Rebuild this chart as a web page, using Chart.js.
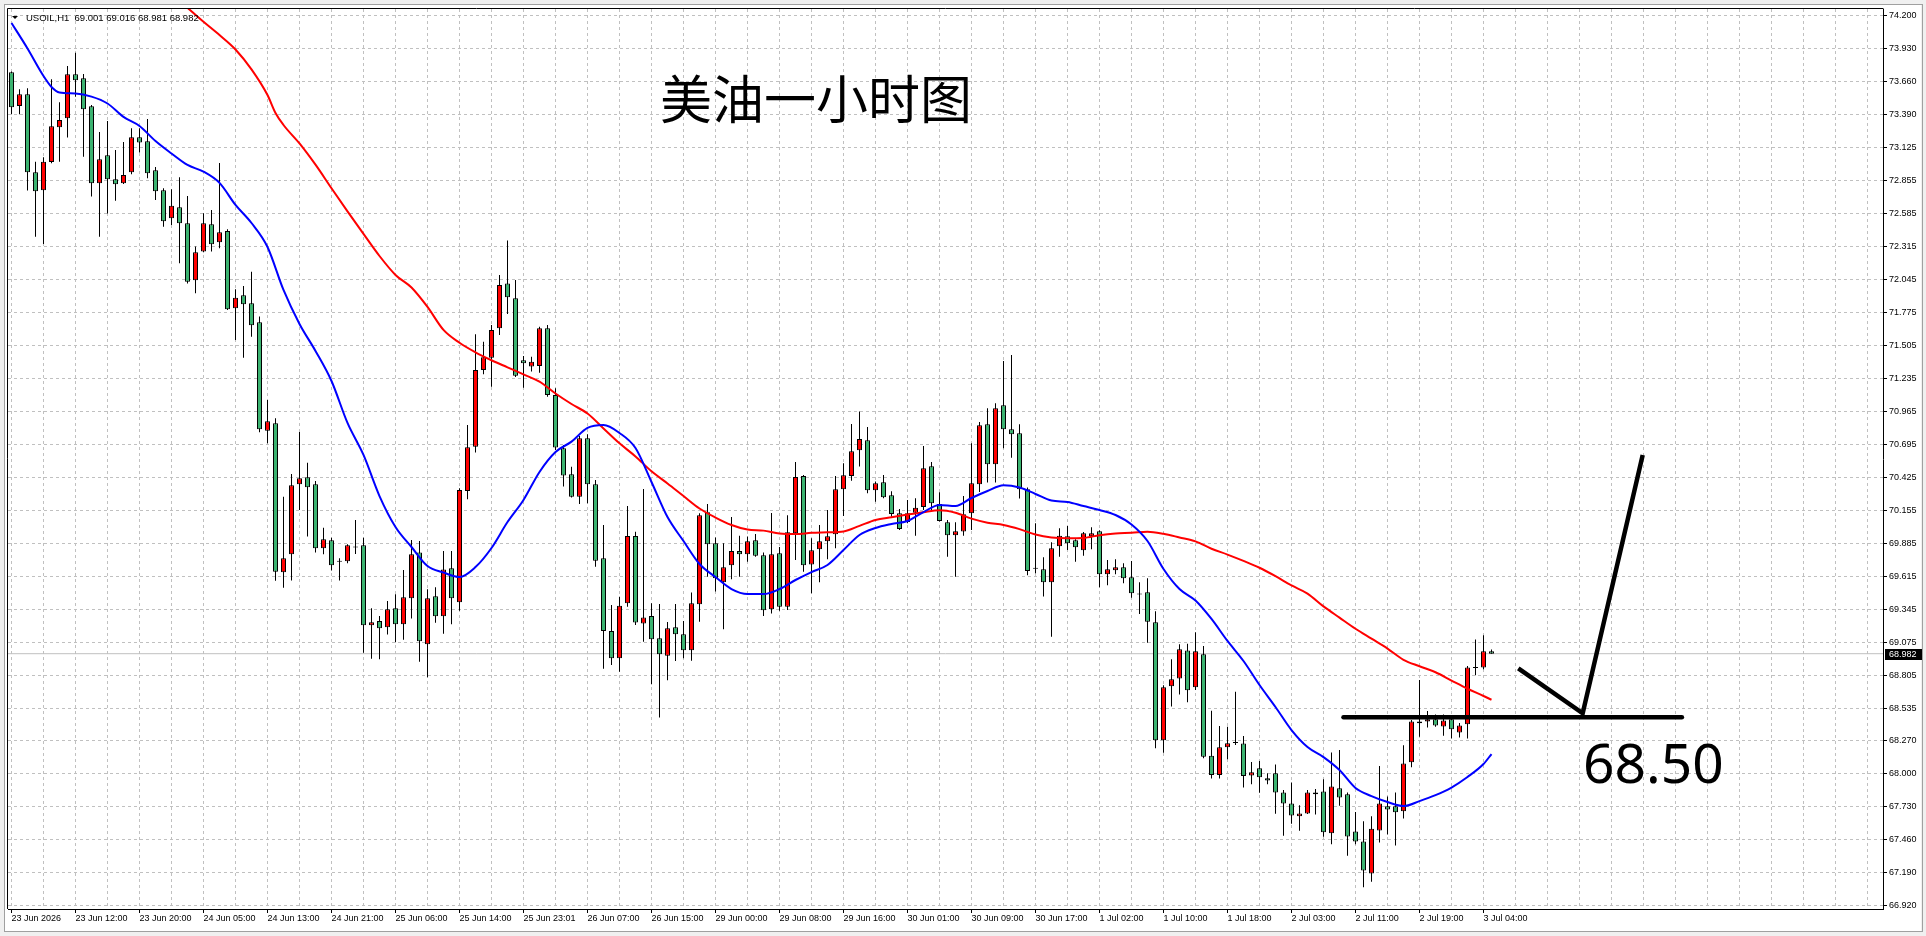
<!DOCTYPE html>
<html>
<head>
<meta charset="utf-8">
<script src="https://cdn.jsdelivr.net/npm/chart.js@4.4.1/dist/chart.umd.min.js"></script>
<style>
html,body{margin:0;padding:0;background:#ffffff;overflow:hidden;}
canvas{display:block;}
</style>
</head>
<body>
<canvas id="c" width="1926" height="936"></canvas>
<script>
// ---------- DATA ----------
const candleOpen = [
73.739,73.464,73.559,72.921,72.774,73.005,73.289,73.363,73.723,73.690,
73.461,72.831,73.060,72.864,72.831,72.921,73.207,73.174,72.937,72.774,
72.544,72.634,72.503,72.037,72.272,72.495,72.348,72.441,71.808,71.914,
71.849,71.693,70.807,70.867,69.648,69.795,70.368,70.425,70.368,69.844,
69.910,69.734,69.738,69.850,69.869,69.214,69.250,69.198,69.353,69.222,
69.435,69.809,69.059,69.451,69.288,69.681,69.402,70.313,70.676,71.303,
71.404,71.644,72.012,71.890,71.382,71.331,71.336,71.644,71.099,70.662,
70.450,70.267,70.744,70.368,69.762,69.167,68.944,69.394,69.945,69.230,
69.291,69.108,68.966,69.198,69.141,69.010,69.386,70.139,69.885,69.566,
69.705,69.823,69.795,69.910,69.787,69.345,69.803,69.367,69.967,70.436,
69.711,69.836,69.902,69.959,70.327,70.436,70.646,70.728,70.319,70.384,
70.278,70.131,70.060,70.136,70.183,70.515,70.207,70.057,69.951,69.981,
70.131,70.368,70.859,70.532,71.014,70.818,70.785,70.327,69.677,69.672,
69.566,69.861,69.942,69.910,69.828,69.942,69.983,69.631,69.664,69.689,
69.607,69.467,69.484,69.239,68.273,68.715,68.780,69.009,68.707,68.977,
68.147,67.990,68.216,68.252,68.248,67.986,68.044,67.962,68.003,67.847,
67.757,67.651,67.675,67.847,67.855,67.512,67.880,67.831,67.528,67.446,
67.184,67.536,67.733,67.733,67.692,68.093,68.412,68.428,68.445,68.387,
68.445,68.338,68.404,68.865,68.870,69.001
];
const candleHigh = [
73.745,73.600,73.608,73.008,73.044,73.682,73.494,73.791,73.900,73.725,
73.472,73.251,73.341,73.104,73.169,73.281,73.281,73.357,72.964,72.790,
72.782,72.880,72.727,72.313,72.585,72.613,72.997,72.454,71.963,71.991,
72.108,71.740,71.058,70.908,70.267,70.452,70.796,70.545,70.395,70.013,
69.931,69.762,69.877,70.076,69.931,69.353,69.290,69.413,69.468,69.667,
69.912,69.904,69.509,69.525,69.822,69.822,70.335,70.853,71.595,71.535,
71.672,72.081,72.362,72.040,71.418,71.412,71.658,71.672,71.153,70.690,
70.512,70.763,70.777,70.403,70.035,69.380,69.448,70.190,69.980,70.330,
69.394,69.389,69.242,69.389,69.250,69.482,70.131,70.207,69.932,69.885,
70.101,69.948,69.940,69.962,69.809,70.133,69.855,70.114,70.551,70.444,
69.926,70.035,70.158,70.436,70.540,70.862,70.963,70.837,70.390,70.444,
70.311,70.166,70.240,70.254,70.682,70.551,70.303,70.076,70.057,70.272,
70.703,70.878,70.990,71.031,71.377,71.426,70.859,70.341,70.049,69.771,
69.893,70.008,70.027,69.918,69.978,70.016,69.991,69.749,69.754,69.721,
69.740,69.566,69.599,69.329,68.723,68.936,69.059,69.064,69.157,69.045,
68.515,68.390,68.385,68.671,68.308,68.095,68.104,68.003,68.076,67.866,
67.929,67.741,67.866,67.874,67.954,68.174,68.194,67.847,67.686,67.610,
67.651,68.063,67.814,67.847,68.232,68.439,68.766,68.513,68.485,68.485,
68.472,68.414,68.881,69.099,69.132,69.016
];
const candleLow = [
73.395,73.395,72.771,72.394,72.334,72.994,73.008,73.205,73.540,73.049,
72.722,72.394,72.583,72.689,72.825,72.904,73.082,72.872,72.694,72.476,
72.490,72.176,72.012,71.931,72.266,72.272,72.299,71.794,71.549,71.404,
71.576,70.793,70.703,69.579,69.522,69.580,70.158,69.940,69.809,69.795,
69.662,69.580,69.721,69.798,68.990,68.941,68.936,69.138,69.075,69.097,
69.269,68.917,68.789,69.236,69.146,69.222,69.334,70.245,70.629,71.268,
71.167,71.590,71.762,71.246,71.159,71.290,71.281,71.085,70.649,70.349,
70.259,70.207,70.212,69.694,68.859,68.889,68.835,69.366,69.217,69.080,
68.731,68.459,68.764,68.922,68.944,68.925,69.244,69.612,69.490,69.182,
69.591,69.612,69.735,69.776,69.291,69.310,69.334,69.340,69.749,69.653,
69.476,69.566,69.754,69.844,70.109,70.398,70.513,70.294,70.226,70.254,
70.103,69.994,70.049,69.948,70.158,70.158,70.063,69.776,69.612,69.948,
69.994,70.305,70.382,70.382,70.662,70.586,70.251,69.623,69.640,69.449,
69.121,69.776,69.831,69.735,69.784,69.836,69.525,69.541,69.631,69.558,
69.440,69.307,69.072,68.208,68.172,68.549,68.649,68.584,68.685,68.126,
67.960,67.960,68.118,68.235,67.888,67.913,67.844,67.913,67.673,67.493,
67.591,67.533,67.670,67.667,67.484,67.422,67.738,67.329,67.422,67.070,
67.116,67.438,67.503,67.413,67.634,68.052,68.303,68.379,68.385,68.311,
68.289,68.297,68.289,68.805,68.854,68.981
];
const candleClose = [
73.453,73.559,72.921,72.765,73.008,73.297,73.349,73.723,73.674,73.436,
72.831,73.027,72.864,72.823,72.899,73.207,73.164,72.913,72.765,72.520,
72.648,72.503,72.026,72.266,72.503,72.332,72.430,71.800,71.895,71.841,
71.669,70.818,70.883,69.653,69.762,70.360,70.417,70.343,69.844,69.918,
69.705,69.734,69.869,69.850,69.214,69.239,69.190,69.345,69.222,69.443,
69.795,69.083,69.435,69.288,69.670,69.435,70.322,70.671,71.303,71.407,
71.631,71.999,71.898,71.257,71.358,71.371,71.644,71.099,70.670,70.439,
70.267,70.744,70.368,69.743,69.167,68.944,69.375,69.945,69.238,69.279,
69.100,68.977,69.190,69.141,69.010,69.394,70.114,69.877,69.599,69.689,
69.823,69.795,69.902,69.784,69.337,69.795,69.367,69.975,70.428,69.705,
69.828,69.902,69.943,70.327,70.442,70.638,70.739,70.319,70.376,70.262,
70.125,70.003,70.131,70.177,70.499,70.213,70.068,69.951,69.983,70.122,
70.376,70.851,70.532,70.990,70.818,70.777,70.327,69.659,69.677,69.566,
69.844,69.948,69.885,69.852,69.967,69.967,69.631,69.672,69.689,69.599,
69.476,69.467,69.244,68.273,68.707,68.772,69.018,68.682,69.001,68.139,
67.990,68.216,68.249,68.252,67.981,68.011,67.970,67.945,67.847,67.757,
67.659,67.675,67.847,67.831,67.520,67.896,67.806,67.487,67.446,67.209,
67.550,67.757,67.708,67.684,68.084,68.428,68.428,68.445,68.395,68.436,
68.363,68.395,68.870,68.865,69.001,68.982
];

// time labels, one every 8 bars starting at bar 0
const timeLabels = [
"23 Jun 2026","23 Jun 12:00","23 Jun 20:00","24 Jun 05:00","24 Jun 13:00","24 Jun 21:00",
"25 Jun 06:00","25 Jun 14:00","25 Jun 23:01","26 Jun 07:00","26 Jun 15:00","29 Jun 00:00",
"29 Jun 08:00","29 Jun 16:00","30 Jun 01:00","30 Jun 09:00","30 Jun 17:00","1 Jul 02:00",
"1 Jul 10:00","1 Jul 18:00","2 Jul 03:00","2 Jul 11:00","2 Jul 19:00","3 Jul 04:00"
];
const priceTickLabels = [
"74.200","73.930","73.660","73.390","73.125","72.855","72.585","72.315","72.045","71.775",
"71.505","71.235","70.965","70.695","70.425","70.155","69.885","69.615","69.345","69.075",
"68.805","68.535","68.270","68.000","67.730","67.460","67.190","66.920"
];

// moving averages (bar index, value)
const blueMaBars = [0,2,4,5,6,8,10,12,14,16,18,20,22,24,26,28,30,32,34,36,38,40,42,44,46,48,50,52,54,56,58,60,62,64,66,68,70,72,74,76,78,80,82,84,86,88,90,92,94,96,98,100,102,104,106,108,110,112,114,116,118,120,122,124,126,128,130,132,134,136,138,140,142,144,146,148,150,152,154,156,158,160,162,164,166,168,170,172,174,176,178,180,182,184,185];
const blueMa = [74.143,73.934,73.709,73.619,73.574,73.566,73.540,73.484,73.374,73.300,
73.177,73.075,72.981,72.926,72.834,72.654,72.506,72.310,71.958,71.680,
71.459,71.213,70.870,70.608,70.272,70.019,69.855,69.699,69.646,69.609,
69.691,69.847,70.059,70.240,70.469,70.632,70.717,70.829,70.853,70.788,
70.665,70.387,70.100,69.904,69.716,69.609,69.511,69.470,69.470,69.511,
69.585,69.650,69.708,69.830,69.953,70.010,70.043,70.068,70.141,70.199,
70.190,70.256,70.313,70.360,70.342,70.289,70.235,70.223,70.190,70.158,
70.117,70.039,69.904,69.675,69.511,69.417,69.266,69.086,68.922,68.726,
68.546,68.357,68.218,68.136,68.030,67.883,67.817,67.768,67.735,67.776,
67.825,67.887,67.973,68.079,68.161];
const redMaBars = [21,22,24,26,28,30,32,33,34,36,38,40,42,44,46,48,50,52,54,56,58,60,62,64,66,68,70,72,74,76,78,80,82,84,86,88,90,92,94,96,98,100,102,104,106,108,110,112,114,116,118,120,122,124,126,128,130,132,134,136,138,140,142,144,146,148,150,152,154,156,158,160,162,164,166,168,170,172,174,176,178,180,182,184,185];
const redMa = [74.319,74.266,74.153,74.044,73.926,73.763,73.553,73.406,73.308,73.157,
72.983,72.790,72.601,72.417,72.236,72.081,71.978,71.819,71.631,71.526,
71.448,71.383,71.325,71.267,71.208,71.111,71.025,70.947,70.825,70.703,
70.596,70.474,70.375,70.272,70.170,70.096,70.035,69.998,69.989,69.966,
69.961,69.971,69.975,69.982,70.028,70.076,70.099,70.120,70.140,70.155,
70.135,70.087,70.054,70.035,70.001,69.957,69.933,69.927,69.929,69.952,
69.966,69.971,69.980,69.963,69.933,69.901,69.841,69.793,69.741,69.685,
69.616,69.540,69.474,69.369,69.277,69.186,69.105,69.024,68.932,68.879,
68.830,68.762,68.695,68.636,68.605];

const lastPrice = 68.982;
const headerText = "USOIL,H1  69.001 69.016 68.981 68.982";
const titleText = "美油一小时图";
const titleBar = 100.56, titlePrice = 73.519;
const supportPrice = 68.461;
const supportBars = [166.5, 208.8];
const arrowBars = [188.35, 196.4, 203.9];
const arrowPrices = [68.862, 68.494, 70.608];
const levelLabel = "68.50";
const levelLabelBar = 196.44, levelLabelPrice = 67.921;

// ---------- CHART ----------
const X_MIN = -0.4375, X_MAX = 233.9375;
const Y_MIN = 66.893, Y_MAX = 74.257;
const AXIS_FONT = {family: "'Liberation Sans', Arial, sans-serif", size: 9};

const idx = candleOpen.map((_, i) => i);
const bodyColors = idx.map(i => {
  const d = candleClose[i] - candleOpen[i];
  if (Math.abs(d) < 0.002) return '#000000';
  return d > 0 ? '#FF0000' : '#3CB371';
});

const overlayPlugin = {
  id: 'overlay',
  beforeDraw(chart) {
    const {ctx, width, height} = chart;
    ctx.save();
    ctx.fillStyle = '#F0F0F0';
    ctx.fillRect(0, 0, width, height);
    ctx.fillStyle = '#FFFFFF';
    ctx.fillRect(5, 5, width - 10 - 0, height - 10);
    ctx.strokeStyle = '#A0A0A0';
    ctx.lineWidth = 1;
    ctx.strokeRect(4.5, 4.5, width - 8, height - 9);
    ctx.restore();
  },
  afterDraw(chart) {
    const {ctx, chartArea: a, scales: {x, y}} = chart;
    ctx.save();
    // left / top border of the plot
    ctx.strokeStyle = '#000';
    ctx.lineWidth = 1;
    ctx.beginPath();
    ctx.moveTo(a.left - 0.5, a.bottom);
    ctx.lineTo(a.left - 0.5, a.top - 0.5);
    ctx.lineTo(a.right + 0.5, a.top - 0.5);
    ctx.stroke();
    // header
    ctx.fillStyle = '#000';
    ctx.beginPath();
    ctx.moveTo(a.left + 4, a.top + 7);
    ctx.lineTo(a.left + 10, a.top + 7);
    ctx.lineTo(a.left + 7, a.top + 10);
    ctx.closePath();
    ctx.fill();
    ctx.font = "9.5px 'Liberation Sans', Arial, sans-serif";
    ctx.textAlign = 'left';
    ctx.textBaseline = 'alphabetic';
    ctx.fillText(headerText, a.left + 18, a.top + 12);
    // title
    ctx.font = "52px 'Noto Sans CJK SC', sans-serif";
    ctx.textAlign = 'center';
    ctx.textBaseline = 'middle';
    ctx.fillText(titleText, x.getPixelForValue(titleBar), y.getPixelForValue(titlePrice));
    // level label
    ctx.font = "55px 'Noto Sans', sans-serif";
    ctx.textAlign = 'left';
    ctx.textBaseline = 'alphabetic';
    ctx.fillText(levelLabel, x.getPixelForValue(levelLabelBar), y.getPixelForValue(levelLabelPrice));
    // last price box
    const py = Math.round(y.getPixelForValue(lastPrice));
    ctx.fillStyle = '#000';
    ctx.fillRect(y.left + 2, py - 5, 37, 11);
    ctx.fillStyle = '#FFF';
    ctx.font = "9px 'Liberation Sans', Arial, sans-serif";
    ctx.textBaseline = 'middle';
    ctx.fillText(lastPrice.toFixed(3), y.left + 6, py + 0.5);
    ctx.restore();
  }
};

new Chart(document.getElementById('c'), {
  type: 'bar',
  data: {
    datasets: [
      {
        type: 'line', label: 'support',
        data: supportBars.map(b => ({x: b, y: supportPrice})),
        borderColor: '#000', borderWidth: 4.5, borderCapStyle: 'round',
        pointRadius: 0, order: 0
      },
      {
        type: 'line', label: 'arrow',
        data: arrowBars.map((b, k) => ({x: b, y: arrowPrices[k]})),
        borderColor: '#000', borderWidth: 4.5, borderCapStyle: 'butt', borderJoinStyle: 'miter',
        pointRadius: 0, tension: 0, order: 0
      },
      {
        type: 'line', label: 'MA blue',
        data: blueMaBars.map((b, k) => ({x: b, y: blueMa[k]})),
        borderColor: '#0000FF', borderWidth: 2, pointRadius: 0,
        cubicInterpolationMode: 'monotone', order: 1
      },
      {
        type: 'line', label: 'MA red',
        data: redMaBars.map((b, k) => ({x: b, y: redMa[k]})),
        borderColor: '#FF0000', borderWidth: 2, pointRadius: 0,
        cubicInterpolationMode: 'monotone', order: 1
      },
      {
        type: 'bar', label: 'bodies',
        data: idx.map(i => ({x: i, y: [candleOpen[i], candleClose[i]]})),
        backgroundColor: bodyColors, borderColor: '#000', borderWidth: 1,
        borderSkipped: false, barThickness: 5, minBarLength: 1,
        grouped: false, inflateAmount: 0, order: 2
      },
      {
        type: 'bar', label: 'wicks',
        data: idx.map(i => ({x: i, y: [candleLow[i], candleHigh[i]]})),
        backgroundColor: '#000', borderWidth: 0, barThickness: 1,
        grouped: false, inflateAmount: 0, order: 3
      },
      {
        type: 'line', label: 'last',
        data: [{x: X_MIN, y: lastPrice}, {x: X_MAX, y: lastPrice}],
        borderColor: '#C0C0C0', borderWidth: 1, pointRadius: 0, order: 4
      }
    ]
  },
  options: {
    responsive: false,
    animation: false,
    devicePixelRatio: 1,
    events: [],
    layout: {padding: {left: 8, top: 9, right: 0, bottom: 0}},
    plugins: {legend: {display: false}, tooltip: {enabled: false}},
    scales: {
      x: {
        type: 'linear', position: 'bottom', min: X_MIN, max: X_MAX, offset: false,
        afterBuildTicks: s => {
          const t = [];
          for (let v = 0; v <= X_MAX; v += 4) t.push({value: v});
          s.ticks = t;
        },
        afterFit: s => { s.height = 27; },
        ticks: {
          autoSkip: false, maxRotation: 0, minRotation: 0, align: 'start',
          color: '#000', font: AXIS_FONT, padding: 0,
          callback: v => (v % 8 === 0 && v / 8 < timeLabels.length) ? timeLabels[v / 8] : ''
        },
        grid: {
          color: '#C0C0C0', lineWidth: 1, offset: false, drawTicks: true, tickLength: 4,
          tickColor: c => (c.tick && c.tick.value % 8 === 0 && c.tick.value / 8 < timeLabels.length) ? '#000' : 'rgba(0,0,0,0)'
        },
        border: {display: true, color: '#000', width: 1, dash: [3, 3]}
      },
      y: {
        type: 'linear', position: 'right', min: Y_MIN, max: Y_MAX,
        afterBuildTicks: s => { s.ticks = priceTickLabels.map(t => ({value: parseFloat(t)})); },
        afterFit: s => { s.width = 43; },
        ticks: {
          autoSkip: false, color: '#000', font: AXIS_FONT, padding: 2,
          callback: v => Number(v).toFixed(3)
        },
        grid: {color: '#C0C0C0', lineWidth: 1, drawTicks: true, tickLength: 4, tickColor: '#000'},
        border: {display: true, color: '#000', width: 1, dash: [3, 3]}
      }
    }
  },
  plugins: [overlayPlugin]
});
</script>
</body>
</html>
